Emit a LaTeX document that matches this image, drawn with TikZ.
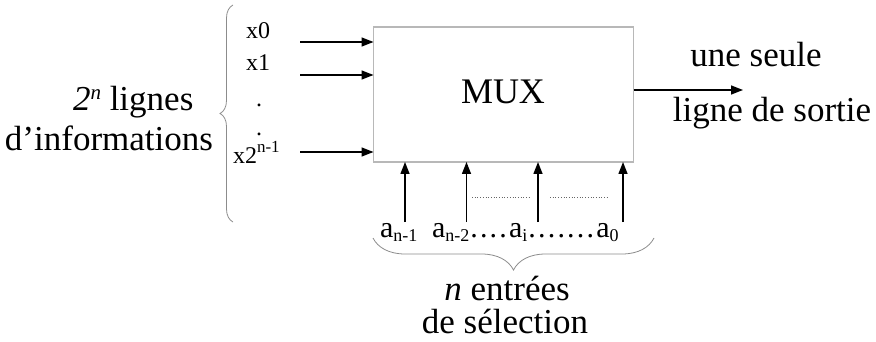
\documentclass[tikz,border=0pt]{standalone}
\usepackage{fontspec}
\setmainfont{Liberation Serif}
\usetikzlibrary{arrows.meta,decorations.pathreplacing}

% font sizes used in the drawing (1pt = one unit)
\newcommand{\bigtxt}{\fontsize{35}{40}\selectfont}
\newcommand{\muxtxt}{\fontsize{36}{40}\selectfont}
\newcommand{\smalltxt}{\fontsize{24}{26}\selectfont}
\newcommand{\seltxt}{\fontsize{30}{32}\selectfont}
\newcommand{\lowsub}[1]{\raisebox{-4pt}{\fontsize{18}{19}\selectfont #1}}
\newcommand{\highsup}[1]{\raisebox{11pt}{\fontsize{17}{18}\selectfont #1}}
\newcommand{\expn}{\raisebox{11pt}{\fontsize{21}{22}\selectfont\textit{n}}}
\newcommand{\spd}{.\kern2.2pt}

\begin{document}
\begin{tikzpicture}[x=1pt,y=-1pt,
  every node/.style={inner sep=0pt,outer sep=0pt},
  txt/.style={anchor=base},
  xlbl/.style={anchor=base,font=\smalltxt},
  arr/.style={line width=1.4pt,-{Triangle[length=12pt,width=9pt]}},
  bracestyle/.style={draw=black!45,line width=0.8pt,decorate,
    decoration={brace,amplitude=#1}},
  muxbox/.style={draw=black!28,line width=1.2pt,minimum width=260pt,
    minimum height=135pt,fill=white}]
\useasboundingbox (0,0) rectangle (876,342);

% the multiplexer block
\node[muxbox] (mux) at (503.5,94.5) {};
\node[txt] (muxlbl) at (503,104) {\muxtxt MUX};

% data inputs
\node[xlbl] (x0) at (258,39) {x0};
\node[xlbl] (x1) at (258,71) {x1};
\node[xlbl] (d1) at (259,107) {.};
\node[xlbl] (d2) at (259,136) {.};
\node[xlbl,anchor=base west] (xn) at (233,164) {x2\highsup{n-1}};
\coordinate (i0) at (300,42);
\coordinate (i1) at (300,75);
\coordinate (i2) at (300,152);
\draw[arr] (i0) -- (i0 -| mux.west);
\draw[arr] (i1) -- (i1 -| mux.west);
\draw[arr] (i2) -- (i2 -| mux.west);

% brace and label for the data lines
\coordinate (lb1) at (233,222);
\coordinate (lb2) at (233,5);
\draw[bracestyle=13pt] (lb1) -- (lb2);
\node[txt,anchor=base west] (lig) at (73,111) {\bigtxt\textit{2}\expn\ lignes};
\node[txt,anchor=base west] (info) at (5,151) {\bigtxt d’informations};

% output
\coordinate (out) at (743,90);
\draw[arr] (out -| mux.east) -- (out);
\node[txt] (o1) at (756,67) {\bigtxt une seule};
\node[txt] (o2) at (772,122) {\bigtxt ligne de sortie};

% selection inputs
\coordinate (s1) at (405,222);
\coordinate (s2) at (466.5,222);
\coordinate (s3) at (538,222);
\coordinate (s4) at (623,222);
\draw[arr] (s1) -- (s1 |- mux.south);
\draw[arr] (s2) -- (s2 |- mux.south);
\draw[arr] (s3) -- (s3 |- mux.south);
\draw[arr] (s4) -- (s4 |- mux.south);
\coordinate (g1) at (472,197);
\coordinate (g2) at (531,197);
\coordinate (g3) at (550,197);
\coordinate (g4) at (609,197);
\draw[black!60,line width=0.7pt,dotted] (g1) -- (g2);
\draw[black!60,line width=0.7pt,dotted] (g3) -- (g4);
\node[txt,anchor=base west] (a1) at (380,237) {\seltxt a\lowsub{n-1}};
\node[txt,anchor=base west] (a2) at (432,237)
  {\seltxt a\lowsub{n-2}\kern1pt\spd\spd\spd\spd a\lowsub{i}\kern1pt\spd\spd\spd\spd\spd\spd\spd a\lowsub{0}};

% brace and label for the selection lines
\coordinate (bb1) at (654,238);
\coordinate (bb2) at (373,238);
\draw[bracestyle=32pt] (bb1) -- (bb2);
\node[txt] (n1) at (507,300) {\bigtxt\textit{n} entrées};
\node[txt] (n2) at (505,333) {\bigtxt de sélection};
\end{tikzpicture}
\end{document}
